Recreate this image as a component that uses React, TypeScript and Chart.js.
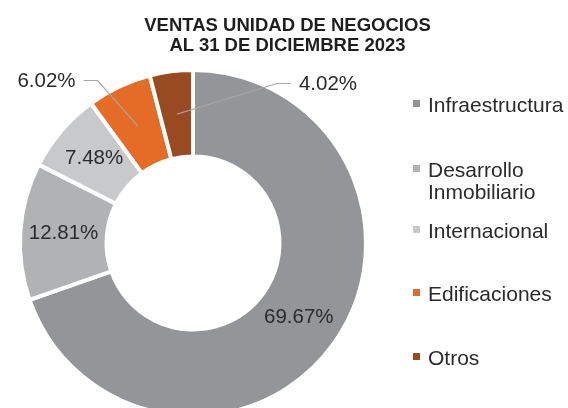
import React, { useEffect, useRef } from "react";
import { Chart, registerables } from "chart.js";

Chart.register(...registerables);

// ---- data ----
const categories = ["Infraestructura", "Desarrollo Inmobiliario", "Internacional", "Edificaciones", "Otros"];
const legendLines = [["Infraestructura"], ["Desarrollo", "Inmobiliario"], ["Internacional"], ["Edificaciones"], ["Otros"]];
const values = [69.67, 12.81, 7.48, 6.02, 4.02];
const valueLabels = ["69.67%", "12.81%", "7.48%", "6.02%", "4.02%"];
const colors = ["#939598", "#B1B2B4", "#C8C9CA", "#E46C26", "#984A20"];
const titleLines = ["VENTAS UNIDAD DE NEGOCIOS", "AL 31 DE DICIEMBRE 2023"];

// ---- layout / style ----
const FONT = 'Arial, "Liberation Sans", sans-serif';
const TEXT_COLOR = "#2b2b2b";
const LEADER_COLOR = "#A6A6A6";
// callout label offsets (relative to doughnut centre) for the small slices
const callouts: Record<number, { dx: number; dy: number }> = {
  3: { dx: -146.5, dy: -160.5 },
  4: { dx: 135, dy: -157.5 },
};
const legendTops = [94, 158.6, 220.2, 282.6, 347];

const labelPlugin = {
  id: "sliceLabels",
  afterDatasetsDraw(chart: any) {
    const ctx = chart.ctx as CanvasRenderingContext2D;
    const meta = chart.getDatasetMeta(0);
    ctx.save();
    ctx.font = `20.5px ${FONT}`;
    ctx.fillStyle = TEXT_COLOR;
    ctx.textBaseline = "middle";
    ctx.textAlign = "center";
    meta.data.forEach((arc: any, i: number) => {
      const text = valueLabels[i];
      const p = arc.getCenterPoint();
      const c = callouts[i];
      if (!c) {
        ctx.fillText(text, p.x, p.y - 1);
      } else {
        const { x: cx, y: cy } = arc.getProps(["x", "y"], true);
        const lx = cx + c.dx;
        const ly = cy + c.dy;
        const w = ctx.measureText(text).width;
        const side = c.dx < 0 ? 1 : -1;
        const startX = lx + side * (w / 2 + 8);
        const elbowX = startX + side * 14;
        const lineY = ly - 2;
        ctx.beginPath();
        ctx.strokeStyle = LEADER_COLOR;
        ctx.lineWidth = 1.2;
        ctx.moveTo(startX, lineY);
        ctx.lineTo(elbowX, lineY);
        ctx.lineTo(p.x, p.y);
        ctx.stroke();
        ctx.fillText(text, lx, ly - 1);
      }
    });
    ctx.restore();
  },
};

export default function App() {
  const canvasRef = useRef<HTMLCanvasElement | null>(null);

  useEffect(() => {
    if (!canvasRef.current) return;
    const chart = new Chart(canvasRef.current, {
      type: "doughnut",
      data: {
        labels: categories,
        datasets: [
          {
            data: values,
            backgroundColor: colors,
            borderColor: "#ffffff",
            borderWidth: 4,
            hoverBorderWidth: 4,
          },
        ],
      },
      options: {
        responsive: false,
        maintainAspectRatio: false,
        animation: false,
        cutout: "50%",
        layout: { padding: { left: 18, top: 68, right: 200, bottom: 22 } },
        plugins: {
          legend: { display: false },
          tooltip: { enabled: false },
          title: { display: false },
        },
      },
      plugins: [labelPlugin],
    });
    return () => chart.destroy();
  }, []);

  return (
    <div
      style={{
        position: "fixed",
        left: 0,
        top: 0,
        width: 568,
        height: 408,
        overflow: "hidden",
        background: "#ffffff",
        fontFamily: FONT,
        color: TEXT_COLOR,
      }}
    >
      <canvas
        ref={canvasRef}
        width={568}
        height={440}
        style={{ position: "absolute", left: 0, top: 0, width: 568, height: 440 }}
      />
      <div
        style={{
          position: "absolute",
          left: 0,
          top: 15,
          width: 575,
          textAlign: "center",
          fontWeight: "bold",
          fontSize: 18.5,
          lineHeight: "20px",
          color: "#1f1f1f",
          whiteSpace: "nowrap",
        }}
      >
        {titleLines.map((t) => (
          <div key={t}>{t}</div>
        ))}
      </div>
      {legendLines.map((lines, i) => (
        <div
          key={categories[i]}
          style={{
            position: "absolute",
            left: 413,
            top: legendTops[i],
            fontSize: 21,
            lineHeight: "22px",
            whiteSpace: "nowrap",
          }}
        >
          <span
            style={{
              position: "absolute",
              left: 0,
              top: 6,
              width: 7,
              height: 7,
              background: colors[i],
            }}
          />
          <div style={{ marginLeft: 15 }}>
            {lines.map((l) => (
              <div key={l}>{l}</div>
            ))}
          </div>
        </div>
      ))}
    </div>
  );
}
